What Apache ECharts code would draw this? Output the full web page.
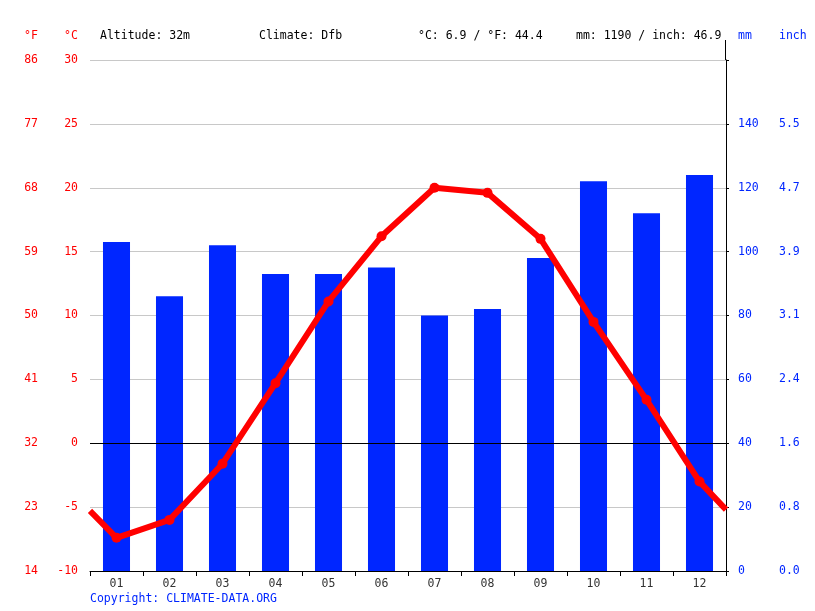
<!DOCTYPE html>
<html>
<head>
<meta charset="utf-8">
<script src="https://cdn.jsdelivr.net/npm/echarts@6/dist/echarts.min.js"></script>
<style>
	html, body { margin: 0; padding: 0; background: #fff; }
	#chart { width: 815px; height: 611px; }
</style>
</head>
<body>
<div id="chart"></div>
<script>
var months = ['01', '02', '03', '04', '05', '06', '07', '08', '09', '10', '11', '12'];
var precipMm = [103, 86, 102, 93, 93, 95, 80, 82, 98, 122, 112, 124];
var tempC = [-7.4, -6.0, -1.6, 4.7, 11.1, 16.2, 20.0, 19.6, 16.0, 9.5, 3.4, -3.0];
// line continues to the plot edges
var tempEdges = [-5.3, -5.2];
var inchLabels = ['0.0', '0.8', '1.6', '2.4', '3.1', '3.9', '4.7', '5.5'];
var headerTexts = [
	['°F', 24, '#ff0000'],
	['°C', 64, '#ff0000'],
	['Altitude: 32m', 100, '#000'],
	['Climate: Dfb', 259, '#000'],
	['°C: 6.9 / °F: 44.4', 418, '#000'],
	['mm: 1190 / inch: 46.9', 576, '#000'],
	['mm', 738, '#0026ff'],
	['inch', 779, '#0026ff']
];

var mono = '"DejaVu Sans Mono", monospace';
var red = '#ff0000';
var blue = '#0026ff';

var myChart = echarts.init(document.getElementById('chart'));

var lineData = [{ value: [0, tempEdges[0]], symbol: 'none' }];
tempC.forEach(function(t, i) {
	lineData.push({ value: [i + 0.5, t] });
});
lineData.push({ value: [12, tempEdges[1]], symbol: 'none' });

var graphics = headerTexts.map(function(h) {
	return {
		type: 'text',
		left: h[1],
		top: 30,
		style: { text: h[0], fill: h[2], font: '11.5px ' + mono }
	};
});
graphics.push({
	type: 'text',
	left: 90,
	top: 593,
	style: { text: 'Copyright: CLIMATE-DATA.ORG', fill: blue, font: '11.5px ' + mono }
});
graphics.push({
	type: 'line',
	shape: { x1: 725.5, y1: 40, x2: 725.5, y2: 60 },
	style: { stroke: '#000', lineWidth: 1 }
});

var option = {
	animation: false,
	textStyle: { fontFamily: mono },
	grid: { left: 90, right: 89, top: 60, bottom: 40 },
	graphic: graphics,
	xAxis: [{
		type: 'category',
		data: months,
		axisLine: { onZero: false, lineStyle: { color: '#000', width: 1 } },
		axisTick: { show: true, length: 5, lineStyle: { color: '#000' } },
		axisLabel: { color: '#333', fontSize: 11.5, fontFamily: mono, margin: 7 }
	}, {
		type: 'value',
		min: 0,
		max: 12,
		show: false
	}],
	yAxis: [{
		type: 'value',
		position: 'left',
		min: -10,
		max: 30,
		interval: 5,
		axisLine: { show: false },
		axisTick: { show: false },
		axisLabel: { color: red, fontSize: 11.5, fontFamily: mono, margin: 12 },
		splitLine: { lineStyle: { color: '#c8c8c8', width: 1 } }
	}, {
		type: 'value',
		position: 'left',
		offset: 40,
		min: 14,
		max: 86,
		interval: 9,
		axisLine: { show: false },
		axisTick: { show: false },
		axisLabel: { color: red, fontSize: 11.5, fontFamily: mono, margin: 12 },
		splitLine: { show: false }
	}, {
		type: 'value',
		position: 'right',
		min: 0,
		max: 160,
		interval: 20,
		axisLine: { show: true, lineStyle: { color: '#000', width: 1 } },
		axisTick: { show: true, length: 3, lineStyle: { color: '#000' } },
		axisLabel: {
			color: blue, fontSize: 11.5, fontFamily: mono, margin: 12,
			formatter: function(v) { return v >= 160 ? '' : String(v); }
		},
		splitLine: { show: false }
	}, {
		type: 'value',
		position: 'right',
		offset: 41,
		min: 0,
		max: 160,
		interval: 20,
		axisLine: { show: false },
		axisTick: { show: false },
		axisLabel: {
			color: blue, fontSize: 11.5, fontFamily: mono, margin: 12,
			formatter: function(v) { var i = Math.round(v / 20); return inchLabels[i] || ''; }
		},
		splitLine: { show: false }
	}],
	series: [{
		name: 'mm',
		type: 'bar',
		xAxisIndex: 0,
		yAxisIndex: 2,
		barWidth: '51%',
		itemStyle: { color: blue },
		data: precipMm,
		z: 2
	}, {
		name: '°C',
		type: 'line',
		xAxisIndex: 1,
		yAxisIndex: 0,
		symbol: 'circle',
		symbolSize: 10,
		lineStyle: { color: red, width: 6 },
		itemStyle: { color: red },
		data: lineData,
		z: 4,
		markLine: {
			silent: true,
			symbol: 'none',
			label: { show: false },
			lineStyle: { color: '#000', width: 1, type: 'solid' },
			data: [{ yAxis: 0 }],
			z: 3
		}
	}]
};
myChart.setOption(option);
</script>
</body>
</html>
